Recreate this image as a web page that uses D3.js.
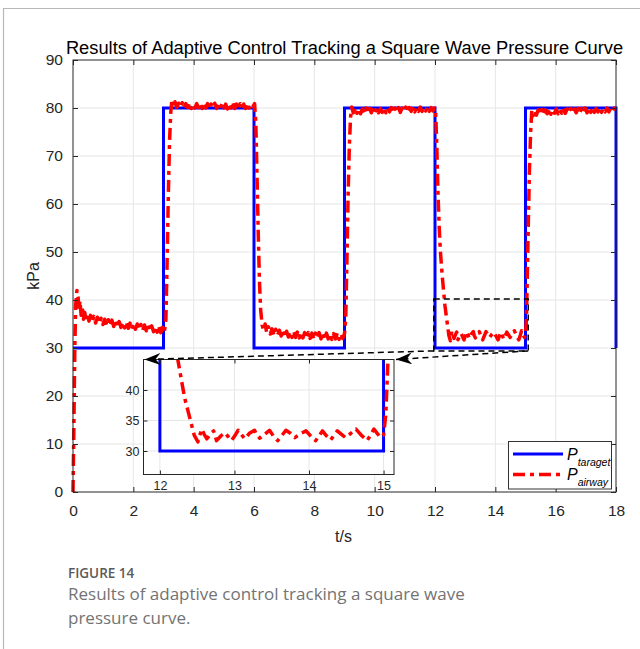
<!DOCTYPE html>
<html>
<head>
<meta charset="utf-8">
<script src="https://cdn.jsdelivr.net/npm/d3@7"></script>
<style>
  body { margin: 0; background: #fff; }
  svg { display: block; }
</style>
</head>
<body>
<svg id="chart" width="640" height="649"></svg>
<script>
// target square wave (t, kPa)
var targetCurve = [[0,30],[3,30],[3,80],[6,80],[6,30],[9,30],[9,80],[12,80],[12,30],[15,30],[15,80],[18,80],[18,30]];

var airwayPhase1 = [[0,0],[0.03,14],[0.06,30],[0.09,39],[0.13,42],[0.17,40.5],[0.2,38],[0.23,39.8],[0.27,36.8],[0.31,38.2],[0.35,36],[0.39,37.4],[0.43,35.8],[0.48,36.9],[0.53,35.6],[0.58,36.8],[0.63,35.4],[0.69,36.6],[0.75,35.2],[0.81,36.4],[0.87,35.1],[0.93,36.2],[0.99,34.9],[1.05,36],[1.11,34.8],[1.17,35.9],[1.23,34.6],[1.29,35.8],[1.35,34.5],[1.41,35.6],[1.47,34.4],[1.53,35.5],[1.59,34.3],[1.65,35.4],[1.71,34.2],[1.77,35.3],[1.83,34.1],[1.89,35.2],[1.95,34],[2.01,35.1],[2.07,33.9],[2.13,35],[2.19,33.8],[2.25,34.9],[2.31,33.7],[2.37,34.8],[2.43,33.6],[2.49,34.7],[2.55,33.5],[2.61,34.6],[2.67,33.4],[2.73,34.5],[2.79,33.3],[2.85,34.4],[2.91,33.2],[2.97,34.3],[3.03,33.4]];
var airwayPhase2 = [[3.08,36],[3.12,48],[3.16,62],[3.2,73],[3.24,79],[3.28,81.8],[3.33,80.4],[3.38,81.3],[3.44,80.1],[3.5,81],[3.56,80.2],[3.62,81.1],[3.68,80],[3.74,80.9],[3.8,80.1],[3.86,81],[3.92,79.9],[3.98,80.8],[4.04,80],[4.1,80.9],[4.16,80.1],[4.22,81],[4.28,79.9],[4.34,80.8],[4.4,80],[4.46,80.9],[4.52,79.8],[4.58,80.8],[4.64,80],[4.7,81],[4.76,79.9],[4.82,80.7],[4.88,79.9],[4.94,80.9],[5,80],[5.06,80.8],[5.12,79.8],[5.18,80.9],[5.24,80],[5.3,81.1],[5.36,79.9],[5.42,80.8],[5.48,79.8],[5.54,80.9],[5.6,80],[5.66,80.8],[5.72,79.9],[5.78,81],[5.84,80],[5.9,80.8],[5.96,80.3],[6.02,80.9]];
var airwayPhase3 = [[6.06,77],[6.1,66],[6.14,54],[6.18,44],[6.22,38],[6.27,34.8],[6.32,33.6],[6.37,35],[6.42,33.2],[6.48,34.4],[6.54,32.9],[6.6,34],[6.66,32.7],[6.72,33.9],[6.78,32.6],[6.84,33.7],[6.9,32.5],[6.96,33.6],[7.02,32.4],[7.08,33.5],[7.14,32.3],[7.2,33.4],[7.26,32.2],[7.32,33.4],[7.38,32.2],[7.44,33.3],[7.5,32.1],[7.56,33.3],[7.62,32.1],[7.68,33.2],[7.74,32],[7.8,33.2],[7.86,32],[7.92,33.1],[7.98,31.9],[8.04,33.1],[8.1,32],[8.16,33.2],[8.22,31.9],[8.28,33],[8.34,31.8],[8.4,33.1],[8.46,31.9],[8.52,33],[8.58,31.8],[8.64,33],[8.7,31.9],[8.76,33.1],[8.82,31.8],[8.88,33],[8.94,32],[9,33]];
var airwayPhase4 = [[9.04,36],[9.08,48],[9.12,62],[9.16,72],[9.2,78],[9.24,80.2],[9.29,79],[9.35,80],[9.41,78.9],[9.47,79.9],[9.53,78.8],[9.59,79.8],[9.65,79],[9.71,80],[9.77,78.9],[9.83,79.9],[9.89,79],[9.95,80],[10.01,79.1],[10.07,80],[10.13,79],[10.19,79.9],[10.25,79.1],[10.31,80.1],[10.37,79],[10.43,80],[10.49,79.2],[10.55,80.1],[10.61,79.1],[10.67,80],[10.73,79.2],[10.79,80.1],[10.85,79.1],[10.91,80],[10.97,79.3],[11.03,80.2],[11.09,79.2],[11.15,80.1],[11.21,79.3],[11.27,80.2],[11.33,79.2],[11.39,80.1],[11.45,79.3],[11.51,80.2],[11.57,79.3],[11.63,80.1],[11.69,79.4],[11.75,80.2],[11.81,79.3],[11.87,80.1],[11.93,79.4],[11.99,80]];
var airwayPhase5 = [[12.02,79.5],[12.06,72],[12.1,62],[12.14,55],[12.18,50],[12.24,45],[12.33,38.8],[12.42,34.5],[12.46,32.6],[12.51,31.5],[12.56,33.6],[12.6,32.6],[12.63,32],[12.68,32.8],[12.72,33.3],[12.76,31.7],[12.82,32.5],[12.87,33],[12.92,32.3],[12.96,31.7],[13.01,32.6],[13.05,33.4],[13.1,32.6],[13.14,32],[13.2,32.9],[13.27,33.4],[13.3,32.6],[13.34,32.1],[13.4,32.7],[13.47,33.4],[13.52,32.5],[13.58,31.7],[13.64,32.6],[13.69,33.4],[13.75,32.9],[13.81,32.2],[13.88,32.8],[13.96,33.3],[14.02,32.5],[14.09,31.7],[14.14,32.6],[14.18,33.3],[14.24,32.4],[14.29,31.8],[14.34,32.7],[14.38,33.3],[14.44,32.7],[14.49,32.2],[14.56,32.9],[14.63,33.6],[14.7,32.6],[14.78,31.7],[14.83,32.7],[14.87,33.6],[14.92,32.8],[14.96,32.2],[15,32.6]];
var airwayPhase6 = [[15.03,36],[15.06,45],[15.09,55],[15.13,67],[15.17,75],[15.21,79.6],[15.25,78.4],[15.3,79.5],[15.36,78.5],[15.42,79.6],[15.48,78.6],[15.54,79.7],[15.6,78.7],[15.66,79.6],[15.72,78.8],[15.78,79.8],[15.84,78.7],[15.9,79.7],[15.96,78.9],[16.02,79.8],[16.08,78.8],[16.14,79.7],[16.2,78.9],[16.26,79.9],[16.32,78.9],[16.38,79.8],[16.44,79],[16.5,79.9],[16.56,78.9],[16.62,79.8],[16.68,79],[16.74,79.9],[16.8,79],[16.86,79.9],[16.92,79.1],[16.98,80],[17.04,79],[17.1,79.9],[17.16,79.1],[17.22,80],[17.28,79.1],[17.34,79.9],[17.4,79.2],[17.46,80],[17.52,79.1],[17.58,79.9],[17.64,79.2],[17.7,80],[17.76,79.2],[17.82,79.9],[17.88,79.3],[17.94,80],[18,79.4]];
var airwayCurve = [].concat(airwayPhase1, airwayPhase2, airwayPhase3, airwayPhase4, airwayPhase5, airwayPhase6);

var xTicks = [0,2,4,6,8,10,12,14,16,18];
var yTicks = [0,10,20,30,40,50,60,70,80,90];
var insetXTicks = [12,13,14,15];
var insetYTicks = [30,35,40];
var zoomBox = [11.96, 15.09, 29.4, 40.2];   // t0, t1, p0, p1 of the dashed region
var legendLabels = ["taraget", "airway"];

var svg = d3.select("#chart");
var font = "'Liberation Sans', Arial, Helvetica, sans-serif";

// card frame
svg.append("line").attr("x1", 3.5).attr("x2", 3.5).attr("y1", 8).attr("y2", 649)
  .attr("stroke", "#b8b8b8").attr("stroke-width", 1.2);
svg.append("line").attr("x1", 3).attr("x2", 640).attr("y1", 8.5).attr("y2", 8.5)
  .attr("stroke", "#b8b8b8").attr("stroke-width", 1.2);

var L = 73, R = 616, T = 60, B = 492;
var x = d3.scaleLinear().domain([0, 18]).range([L, R]);
var y = d3.scaleLinear().domain([0, 90]).range([B, T]);

var main = svg.append("g");

// grid
main.append("g").selectAll("line").data(xTicks.slice(1, -1)).join("line")
  .attr("x1", d => x(d)).attr("x2", d => x(d)).attr("y1", T).attr("y2", B)
  .attr("stroke", "#e6e6e6").attr("stroke-width", 1);
main.append("g").selectAll("line").data(yTicks.slice(1, -1)).join("line")
  .attr("x1", L).attr("x2", R).attr("y1", d => y(d)).attr("y2", d => y(d))
  .attr("stroke", "#e6e6e6").attr("stroke-width", 1);

var line = d3.line().x(d => x(d[0])).y(d => y(d[1]));

main.append("path").datum(targetCurve).attr("d", line)
  .attr("fill", "none").attr("stroke", "#0000ff").attr("stroke-width", 3);
main.append("path").datum(airwayCurve).attr("d", line)
  .attr("fill", "none").attr("stroke", "#ff0000").attr("stroke-width", 3.5)
  .attr("stroke-dasharray", "12,5,4,5").attr("stroke-linejoin", "round");

// axes
function styleAxis(g) {
  g.select(".domain").remove();
  g.selectAll(".tick line").attr("stroke", "#262626");
  g.selectAll("text").attr("fill", "#262626").style("font-family", font);
}
main.append("g").attr("transform", "translate(0," + B + ")")
  .call(d3.axisBottom(x).tickValues(xTicks).tickSize(-5).tickPadding(13))
  .call(styleAxis).selectAll("text").style("font-size", "15.5px");
main.append("g").attr("transform", "translate(0," + T + ")")
  .call(d3.axisTop(x).tickValues(xTicks).tickSize(-5).tickFormat(""))
  .call(styleAxis);
main.append("g").attr("transform", "translate(" + L + ",0)")
  .call(d3.axisLeft(y).tickValues(yTicks).tickSize(-5).tickPadding(10))
  .call(styleAxis).selectAll("text").style("font-size", "15.5px");
main.append("g").attr("transform", "translate(" + R + ",0)")
  .call(d3.axisRight(y).tickValues(yTicks).tickSize(-5).tickFormat(""))
  .call(styleAxis);
main.append("rect").attr("x", L).attr("y", T).attr("width", R - L).attr("height", B - T)
  .attr("fill", "none").attr("stroke", "#262626").attr("stroke-width", 1);

svg.append("text").attr("x", (L + R) / 2).attr("y", 54).attr("text-anchor", "middle")
  .style("font-family", font).style("font-size", "18.3px").attr("fill", "#000")
  .text("Results of Adaptive Control Tracking a Square Wave Pressure Curve");
svg.append("text").attr("x", (L + R) / 2 - 1).attr("y", 542).attr("text-anchor", "middle")
  .style("font-family", font).style("font-size", "16px").attr("fill", "#262626").text("t/s");
svg.append("text").attr("transform", "translate(38.5,276) rotate(-90)").attr("text-anchor", "middle")
  .style("font-family", font).style("font-size", "16px").attr("fill", "#262626").text("kPa");

// dashed zoom region
main.append("rect")
  .attr("x", x(zoomBox[0])).attr("y", y(zoomBox[3]))
  .attr("width", x(zoomBox[1]) - x(zoomBox[0])).attr("height", y(zoomBox[2]) - y(zoomBox[3]))
  .attr("fill", "none").attr("stroke", "#000").attr("stroke-width", 1.5).attr("stroke-dasharray", "6,4");

// inset
var iL = 143.5, iR = 394, iT = 359.5, iB = 474.5;
var xi = d3.scaleLinear().domain([11.78, 15.14]).range([iL, iR]);
var yi = d3.scaleLinear().domain([26.15, 45]).range([iB, iT]);
var inset = svg.append("g");
inset.append("rect").attr("x", iL).attr("y", iT).attr("width", iR - iL).attr("height", iB - iT).attr("fill", "#fff");
svg.append("clipPath").attr("id", "insetClip").append("rect")
  .attr("x", iL).attr("y", iT).attr("width", iR - iL).attr("height", iB - iT);
inset.append("g").selectAll("line").data(insetXTicks).join("line")
  .attr("x1", d => xi(d)).attr("x2", d => xi(d)).attr("y1", iT).attr("y2", iB)
  .attr("stroke", "#e6e6e6");
inset.append("g").selectAll("line").data(insetYTicks).join("line")
  .attr("x1", iL).attr("x2", iR).attr("y1", d => yi(d)).attr("y2", d => yi(d))
  .attr("stroke", "#e6e6e6");
var iline = d3.line().x(d => xi(d[0])).y(d => yi(d[1]));
var ic = inset.append("g").attr("clip-path", "url(#insetClip)");
ic.append("path").datum(targetCurve).attr("d", iline)
  .attr("fill", "none").attr("stroke", "#0000ff").attr("stroke-width", 3);
ic.append("path").datum(airwayCurve).attr("d", iline)
  .attr("fill", "none").attr("stroke", "#ff0000").attr("stroke-width", 3.5)
  .attr("stroke-dasharray", "12,5,4,5").attr("stroke-linejoin", "round");
inset.append("g").attr("transform", "translate(0," + iB + ")")
  .call(d3.axisBottom(xi).tickValues(insetXTicks).tickSize(-4).tickPadding(7).tickFormat(d3.format("d")))
  .call(styleAxis).selectAll("text").style("font-size", "12.5px");
inset.append("g").attr("transform", "translate(0," + iT + ")")
  .call(d3.axisTop(xi).tickValues(insetXTicks).tickSize(-4).tickFormat(""))
  .call(styleAxis);
inset.append("g").attr("transform", "translate(" + iL + ",0)")
  .call(d3.axisLeft(yi).tickValues(insetYTicks).tickSize(-4).tickPadding(4).tickFormat(d3.format("d")))
  .call(styleAxis).selectAll("text").style("font-size", "12.5px");
inset.append("g").attr("transform", "translate(" + iR + ",0)")
  .call(d3.axisRight(yi).tickValues(insetYTicks).tickSize(-4).tickFormat(""))
  .call(styleAxis);
inset.append("rect").attr("x", iL).attr("y", iT).attr("width", iR - iL).attr("height", iB - iT)
  .attr("fill", "none").attr("stroke", "#262626").attr("stroke-width", 1);

// arrows from the zoom region to the inset corners
svg.append("defs").append("marker").attr("id", "arrowHead")
  .attr("viewBox", "0 0 16 12").attr("refX", 16).attr("refY", 6)
  .attr("markerWidth", 16).attr("markerHeight", 12).attr("markerUnits", "userSpaceOnUse")
  .attr("orient", "auto")
  .append("path").attr("d", "M16,6 L0,0 L5,6 L0,12 Z").attr("fill", "#000");
var arrows = [
  [[x(zoomBox[0]), y(zoomBox[2])], [iL + 1, iT]],
  [[x(zoomBox[1]), y(zoomBox[2])], [iR + 2, iT]]
];
svg.append("g").selectAll("line").data(arrows).join("line")
  .attr("x1", d => d[0][0]).attr("y1", d => d[0][1])
  .attr("x2", d => d[1][0]).attr("y2", d => d[1][1])
  .attr("stroke", "#000").attr("stroke-width", 1.5).attr("stroke-dasharray", "6,4")
  .attr("marker-end", "url(#arrowHead)");

// legend
var lg = svg.append("g");
lg.append("rect").attr("x", 508.5).attr("y", 441.5).attr("width", 103).attr("height", 47.5)
  .attr("fill", "#fff").attr("stroke", "#333").attr("stroke-width", 1);
var legendRows = [
  {label: legendLabels[0], color: "#0000ff", dash: null, yy: 454},
  {label: legendLabels[1], color: "#ff0000", dash: "12,5,4,5", yy: 474.5}
];
legendRows.forEach(function (r) {
  lg.append("line").attr("x1", 513).attr("x2", 563).attr("y1", r.yy).attr("y2", r.yy)
    .attr("stroke", r.color).attr("stroke-width", r.dash ? 3.5 : 3)
    .attr("stroke-dasharray", r.dash);
  var t = lg.append("text").attr("x", 567).attr("y", r.yy + 5.5)
    .style("font-family", font).style("font-style", "italic").style("font-size", "16px").attr("fill", "#000");
  t.append("tspan").text("P");
  t.append("tspan").attr("dy", 6).style("font-size", "10.5px").text(r.label);
});

// caption
var capFont = "'Open Sans', 'Noto Sans', sans-serif";
svg.append("text").attr("x", 68).attr("y", 578)
  .style("font-family", capFont).style("font-size", "13.5px").style("font-weight", 600)
  .attr("fill", "#5a5a5a").text("FIGURE 14");
svg.append("text").attr("x", 68).attr("y", 600)
  .style("font-family", capFont).style("font-size", "17px").attr("fill", "#737373")
  .text("Results of adaptive control tracking a square wave");
svg.append("text").attr("x", 68).attr("y", 624)
  .style("font-family", capFont).style("font-size", "17px").attr("fill", "#737373")
  .text("pressure curve.");
</script>
</body>
</html>
